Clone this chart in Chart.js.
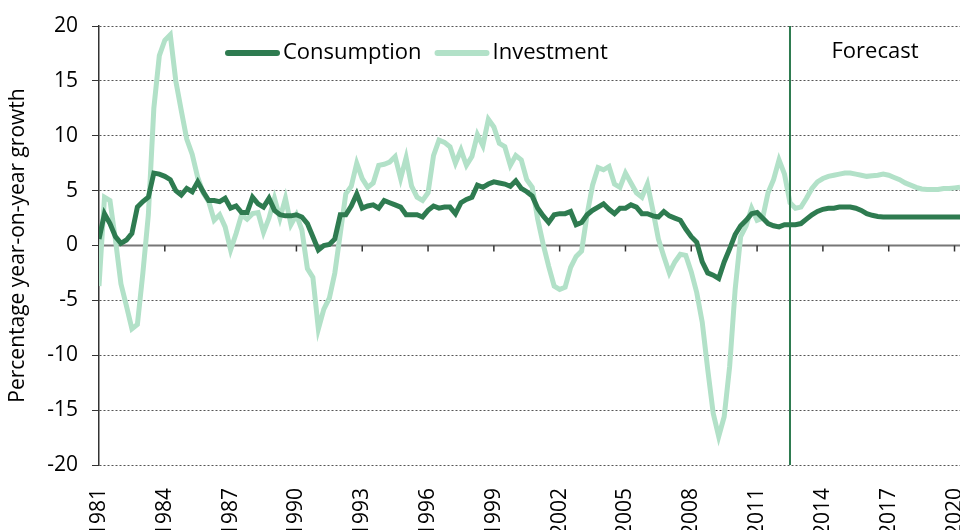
<!DOCTYPE html>
<html>
<head>
<meta charset="utf-8">
<script src="https://cdn.jsdelivr.net/npm/chart.js@4.4.0/dist/chart.umd.min.js"></script>
<style>
  html, body { margin: 0; padding: 0; background: #fff; }
</style>
</head>
<body>
<canvas id="chart" width="960" height="530"></canvas>
<script>
// quarterly, 1981 Q1 .. 2020 Q2
let startYear = 1981;
let consumption = [
  0.6, 2.9, 2.0, 0.8, 0.2, 0.5, 1.1, 3.5, 4.0, 4.4, 6.6, 6.5,
  6.3, 6.0, 5.0, 4.6, 5.2, 4.9, 5.8, 4.9, 4.1, 4.1, 4.0, 4.3,
  3.4, 3.6, 3.0, 3.0, 4.4, 3.8, 3.5, 4.3, 3.2, 2.8, 2.7, 2.7,
  2.8, 2.6, 2.0, 0.8, -0.4, 0.0, 0.1, 0.6, 2.8, 2.8, 3.6, 4.7,
  3.4, 3.6, 3.7, 3.4, 4.1, 3.9, 3.7, 3.5, 2.8, 2.8, 2.8, 2.6,
  3.2, 3.6, 3.4, 3.5, 3.5, 2.9, 3.9, 4.2, 4.4, 5.5, 5.3, 5.6,
  5.8, 5.7, 5.6, 5.4, 5.9, 5.2, 4.9, 4.5, 3.4, 2.7, 2.1, 2.8,
  2.9, 2.9, 3.1, 1.9, 2.1, 2.8, 3.2, 3.5, 3.8, 3.3, 2.9, 3.4,
  3.4, 3.7, 3.5, 2.9, 2.9, 2.7, 2.6, 3.1, 2.7, 2.5, 2.3, 1.5,
  0.8, 0.3, -1.5, -2.5, -2.7, -3.0, -1.5, -0.3, 1.0, 1.8, 2.3, 2.9,
  3.0, 2.5, 2.0, 1.8, 1.7, 1.9, 1.9, 1.9, 2.0, 2.4, 2.8, 3.1,
  3.3, 3.4, 3.4, 3.5, 3.5, 3.5, 3.4, 3.2, 2.9, 2.75, 2.65, 2.6,
  2.6, 2.6, 2.6, 2.6, 2.6, 2.6, 2.6, 2.6, 2.6, 2.6, 2.6, 2.6,
  2.6, 2.6
];
let investment = [
  -3.7, 4.4, 4.1, 0.5, -3.5, -5.5, -7.6, -7.2, -2.5, 2.8, 12.5, 17.3,
  18.7, 19.2, 15.0, 12.3, 9.7, 8.3, 6.2, 4.8, 4.0, 2.3, 2.8, 1.7,
  -0.4, 1.1, 2.8, 2.4, 2.9, 3.0, 1.2, 2.5, 4.3, 2.5, 4.3, 1.9,
  2.8, 1.4, -2.1, -2.9, -7.6, -5.8, -4.8, -2.5, 1.1, 4.7, 5.4, 7.5,
  6.1, 5.3, 5.7, 7.3, 7.4, 7.6, 8.1, 6.1, 8.0, 5.4, 4.4, 4.1,
  4.8, 8.2, 9.6, 9.4, 9.0, 7.5, 8.7, 7.3, 8.1, 10.1, 9.1, 11.5,
  10.8, 9.3, 9.0, 7.3, 8.2, 7.8, 6.0, 5.3, 2.4, 0.1, -1.9, -3.7,
  -4.0, -3.8, -2.0, -1.0, -0.5, 2.8, 5.5, 7.1, 6.9, 7.2, 5.6, 5.3,
  6.6, 5.7, 4.8, 4.4, 5.6, 3.2, 0.6, -1.0, -2.5, -1.5, -0.8, -0.9,
  -2.4, -4.3, -7.0, -11.3, -15.3, -17.4, -15.6, -11.0, -4.0, 0.8, 1.8, 3.4,
  2.3, 2.5, 4.8, 6.0, 7.8, 6.5, 3.9, 3.4, 3.5, 4.3, 5.2, 5.8,
  6.1, 6.3, 6.4, 6.5, 6.6, 6.6, 6.5, 6.4, 6.3, 6.35, 6.4, 6.5,
  6.4, 6.2, 6.0, 5.7, 5.5, 5.3, 5.15, 5.1, 5.1, 5.1, 5.2, 5.2,
  5.25, 5.3
];
let tickYears = [1981, 1984, 1987, 1990, 1993, 1996, 1999, 2002, 2005, 2008, 2011, 2014, 2017, 2020];
let forecastStart = 2012.5;

let darkGreen = '#2e7b50';
let lightGreen = '#b2e1c8';
let fontFamily = "'Open Sans', 'Noto Sans', sans-serif";

function toPoints(values) {
  return values.map((v, i) => ({ x: startYear + i / 4, y: v }));
}

// zero axis with its tick marks, the forecast divider, and the in-plot legend
let extras = {
  id: 'extras',
  beforeDatasetsDraw(chart) {
    let ctx = chart.ctx;
    let area = chart.chartArea;
    let x = chart.scales.x;
    let y0 = chart.scales.y.getPixelForValue(0);
    ctx.save();
    ctx.strokeStyle = '#777';
    ctx.lineWidth = 2;
    ctx.beginPath();
    ctx.moveTo(area.left, y0);
    ctx.lineTo(area.right, y0);
    ctx.stroke();
    ctx.strokeStyle = '#333';
    ctx.lineWidth = 1.5;
    tickYears.forEach(yr => {
      let px = x.getPixelForValue(yr);
      ctx.beginPath();
      ctx.moveTo(px, y0);
      ctx.lineTo(px, y0 + 6);
      ctx.stroke();
    });
    ctx.restore();
  },
  afterDatasetsDraw(chart) {
    let ctx = chart.ctx;
    let area = chart.chartArea;
    let px = chart.scales.x.getPixelForValue(forecastStart);
    ctx.save();
    ctx.strokeStyle = darkGreen;
    ctx.lineWidth = 2;
    ctx.beginPath();
    ctx.moveTo(px, area.top);
    ctx.lineTo(px, area.bottom);
    ctx.stroke();
    ctx.fillStyle = '#000';
    ctx.font = '22px ' + fontFamily;
    ctx.textAlign = 'center';
    ctx.textBaseline = 'middle';
    ctx.fillText('Forecast', 875, 52);

    // legend
    let lx = 225;
    let ly = 53;
    ctx.textAlign = 'left';
    chart.data.datasets.forEach(ds => {
      ctx.strokeStyle = ds.borderColor;
      ctx.lineWidth = 6;
      ctx.lineCap = 'round';
      ctx.beginPath();
      ctx.moveTo(lx + 3, ly);
      ctx.lineTo(lx + 52, ly);
      ctx.stroke();
      ctx.fillStyle = '#000';
      ctx.fillText(ds.label, lx + 58, ly);
      lx += 58 + ctx.measureText(ds.label).width + 13;
    });
    ctx.restore();
  }
};

new Chart(document.getElementById('chart'), {
  type: 'line',
  data: {
    datasets: [{
      label: 'Consumption',
      data: toPoints(consumption),
      borderColor: darkGreen,
      backgroundColor: darkGreen,
      borderWidth: 5,
      pointRadius: 0,
      tension: 0,
      order: 1
    }, {
      label: 'Investment',
      data: toPoints(investment),
      borderColor: lightGreen,
      backgroundColor: lightGreen,
      borderWidth: 5,
      pointRadius: 0,
      tension: 0,
      order: 2
    }]
  },
  options: {
    responsive: false,
    animation: false,
    layout: { padding: { top: 26, right: 0, bottom: 0, left: 0 } },
    plugins: {
      tooltip: { enabled: false },
      legend: { display: false }
    },
    scales: {
      x: {
        type: 'linear',
        min: startYear,
        max: startYear + (consumption.length - 1) / 4,
        afterBuildTicks(scale) {
          scale.ticks = tickYears.map(v => ({ value: v }));
        },
        afterFit(scale) {
          scale.height = 65;
          scale.paddingLeft = 0;
          scale.paddingRight = 0;
        },
        grid: { display: false },
        border: { display: false },
        ticks: {
          autoSkip: false,
          minRotation: 90,
          maxRotation: 90,
          padding: 15,
          color: '#000',
          font: { family: fontFamily, size: 21 },
          callback: v => String(v)
        }
      },
      y: {
        min: -20,
        max: 20,
        afterFit(scale) {
          scale.width = 99;
          scale.paddingTop = 0;
          scale.paddingBottom = 0;
        },
        ticks: {
          stepSize: 5,
          padding: 14,
          color: '#000',
          font: { family: fontFamily, size: 21 }
        },
        grid: {
          color: ctx => ctx.tick && ctx.tick.value === 0 ? 'rgba(0,0,0,0)' : '#555',
          lineWidth: 1,
          tickLength: 7,
          tickColor: '#333'
        },
        border: { display: true, color: '#333', width: 1.5, dash: [2, 2] },
        title: {
          display: true,
          text: 'Percentage year-on-year growth',
          color: '#000',
          padding: { top: 5, bottom: 0 },
          font: { family: fontFamily, size: 21 }
        }
      }
    }
  },
  plugins: [extras]
});
</script>
</body>
</html>
